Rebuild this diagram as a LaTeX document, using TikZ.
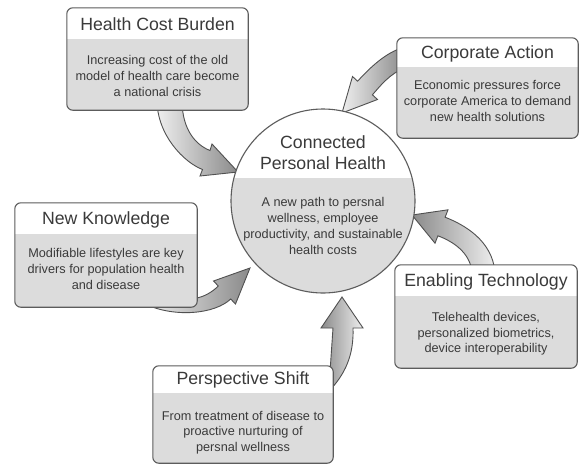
\documentclass[tikz,border=0pt]{standalone}
\usepackage{fontspec}
\setmainfont{Liberation Sans}
\definecolor{boxline}{HTML}{5C5C5C}
\definecolor{bodyfill}{HTML}{DCDCDC}
\definecolor{textcol}{HTML}{3A3A3A}
\definecolor{arrowlight}{HTML}{EEEEEE}
\definecolor{arrowdark}{HTML}{8A8A8A}
\definecolor{arrowline}{HTML}{505050}
\tikzset{
  boxbase/.style={fill=white, rounded corners=6pt, inner sep=0pt},
  boxedge/.style={draw=boxline, line width=1.1pt, rounded corners=6pt},
  titletext/.style={text=textcol, font=\fontsize{17.7}{21}\selectfont, inner sep=0pt, align=center},
  bodytext/.style={text=textcol, font=\fontsize{12.7}{15.7}\selectfont, inner sep=0pt, align=center},
  blockarrow/.style={draw=arrowline, line width=0.9pt, line join=miter},
}
\begin{document}
\begin{tikzpicture}[x=1pt,y=-1pt]
\useasboundingbox[fill=white] (0,0) rectangle (580,464);

% ---- block arrows (drawn first, under boxes) ----
\draw[blockarrow, left color=arrowlight, right color=arrowdark]
  (157,100) .. controls (157,135) and (184,162.4) .. (202.5,169.5)
  -- (200,176) -- (238,172) -- (212,144) -- (210,150.5)
  .. controls (196,145) and (182,130) .. (182,100) -- cycle;
\draw[blockarrow, left color=arrowlight, right color=arrowdark]
  (405,47) .. controls (385,52) and (367.8,70.2) .. (357.6,81.2)
  -- (352.5,76.5) -- (342,113) -- (377.5,99.5) -- (372.4,94.8)
  .. controls (379,87.4) and (390,73) .. (405,68) -- cycle;
\draw[blockarrow, left color=arrowlight, right color=arrowdark]
  (145,304) .. controls (175,318) and (215,314) .. (230.7,299)
  -- (235.5,304) -- (250,268) -- (213.5,281) -- (218.3,286)
  .. controls (205,299) and (190,302) .. (160,298) -- cycle;
\draw[blockarrow, left color=arrowdark, right color=arrowlight]
  (495,272) .. controls (492,240) and (463.7,224.5) .. (445.1,217.2)
  -- (448,209.8) -- (412,215) -- (435,243.2) -- (437.9,235.8)
  .. controls (452,241) and (470,252) .. (472,272) -- cycle;
\draw[blockarrow, left color=arrowdark, right color=arrowlight]
  (328,392) .. controls (345,375) and (354,355) .. (353,328)
  -- (363,328) -- (342,297) -- (321,328) -- (333,328)
  -- (330,372) -- cycle;

% ---- central circle ----
\node[circle, fill=white, inner sep=0pt, minimum size=184pt] (cph) at (323,201) {};
\begin{scope}
  \clip (cph.center) circle[radius=92pt];
  \fill[bodyfill] (225,178) rectangle (421,300);
\end{scope}
\draw[draw=boxline, line width=1.1pt] (cph.center) circle[radius=92pt];
\node[titletext] (cpht) at (323,152.5) {Connected\\Personal Health};
\node[bodytext] (cphb) at (323,226) {A new path to persnal\\wellness, employee\\productivity, and sustainable\\health costs};

% ---- Health Cost Burden ----
\node[boxbase, minimum width=181pt, minimum height=102pt] (hcb) at (157.5,59) {};
\begin{scope}
  \clip[rounded corners=6pt] (hcb.south west) rectangle (hcb.north east);
  \fill[bodyfill] (hcb.south west) rectangle (hcb.east |- 0,39);
\end{scope}
\draw[boxedge] (hcb.south west) rectangle (hcb.north east);
\node[titletext] (hcbt) at (157.5,24) {Health Cost Burden};
\node[bodytext] (hcbb) at (157.5,76) {Increasing cost of the old\\model of health care become\\a national crisis};

% ---- Corporate Action ----
\node[boxbase, minimum width=181pt, minimum height=100pt] (ca) at (487.5,88) {};
\begin{scope}
  \clip[rounded corners=6pt] (ca.south west) rectangle (ca.north east);
  \fill[bodyfill] (ca.south west) rectangle (ca.east |- 0,67);
\end{scope}
\draw[boxedge] (ca.south west) rectangle (ca.north east);
\node[titletext] (cat) at (487.5,54) {Corporate Action};
\node[bodytext] (cab) at (487.5,101) {Economic pressures force\\corporate America to demand\\new health solutions};

% ---- New Knowledge ----
\node[boxbase, minimum width=182pt, minimum height=104pt] (nk) at (106,255) {};
\begin{scope}
  \clip[rounded corners=6pt] (nk.south west) rectangle (nk.north east);
  \fill[bodyfill] (nk.south west) rectangle (nk.east |- 0,234);
\end{scope}
\draw[boxedge] (nk.south west) rectangle (nk.north east);
\node[titletext] (nkt) at (106,220) {New Knowledge};
\node[bodytext] (nkb) at (106,269) {Modifiable lifestyles are key\\drivers for population health\\and disease};

% ---- Enabling Technology ----
\node[boxbase, minimum width=182pt, minimum height=103pt] (et) at (486,316.5) {};
\begin{scope}
  \clip[rounded corners=6pt] (et.south west) rectangle (et.north east);
  \fill[bodyfill] (et.south west) rectangle (et.east |- 0,296);
\end{scope}
\draw[boxedge] (et.south west) rectangle (et.north east);
\node[titletext] (ett) at (486,282) {Enabling Technology};
\node[bodytext] (etb) at (486,334) {Telehealth devices,\\personalized biometrics,\\device interoperability};

% ---- Perspective Shift ----
\node[boxbase, minimum width=180pt, minimum height=97pt] (ps) at (243,414.5) {};
\begin{scope}
  \clip[rounded corners=6pt] (ps.south west) rectangle (ps.north east);
  \fill[bodyfill] (ps.south west) rectangle (ps.east |- 0,393);
\end{scope}
\draw[boxedge] (ps.south west) rectangle (ps.north east);
\node[titletext] (pst) at (243,380) {Perspective Shift};
\node[bodytext] (psb) at (243,432.5) {From treatment of disease to\\proactive nurturing of\\persnal wellness};
\end{tikzpicture}
\end{document}
